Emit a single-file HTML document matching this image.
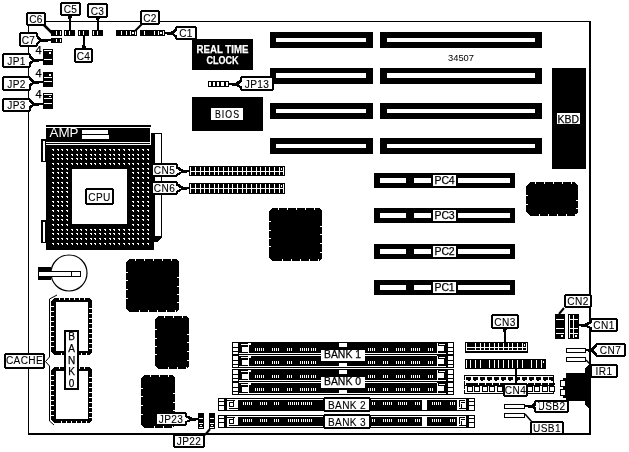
<!DOCTYPE html>
<html><head><meta charset="utf-8"><style>
html,body{margin:0;padding:0;background:#fff;width:629px;height:452px;overflow:hidden}
svg{display:block;will-change:transform}
text{font-family:"Liberation Sans",sans-serif}
</style></head><body>
<svg width="629" height="452" viewBox="0 0 629 452" shape-rendering="crispEdges">
<rect x="28" y="21" width="562" height="1" fill="#000" />
<rect x="28" y="21" width="1" height="414" fill="#000" />
<rect x="589" y="21" width="2" height="414" fill="#000" />
<rect x="28" y="433" width="563" height="2" fill="#000" />
<rect x="270" y="32" width="103" height="16" fill="#000" />
<rect x="276" y="38" width="90" height="4" fill="#fff" />
<rect x="380" y="32" width="162" height="16" fill="#000" />
<rect x="387" y="38" width="148" height="4" fill="#fff" />
<rect x="270" y="68" width="103" height="16" fill="#000" />
<rect x="276" y="73" width="90" height="5" fill="#fff" />
<rect x="380" y="68" width="162" height="16" fill="#000" />
<rect x="387" y="73" width="148" height="5" fill="#fff" />
<rect x="270" y="103" width="103" height="16" fill="#000" />
<rect x="276" y="109" width="90" height="4" fill="#fff" />
<rect x="380" y="103" width="162" height="16" fill="#000" />
<rect x="387" y="109" width="148" height="4" fill="#fff" />
<rect x="270" y="138" width="103" height="16" fill="#000" />
<rect x="276" y="144" width="90" height="4" fill="#fff" />
<rect x="380" y="138" width="162" height="16" fill="#000" />
<rect x="387" y="144" width="148" height="4" fill="#fff" />
<rect x="374" y="173" width="141" height="15" fill="#000" />
<rect x="380" y="178" width="26" height="5" fill="#fff" />
<rect x="414" y="178" width="17" height="5" fill="#fff" />
<rect x="458" y="178" width="52" height="5" fill="#fff" />
<rect x="433" y="175" width="23" height="11" fill="#fff" />
<text x="444.5" y="183.8" font-size="10.5" fill="#000" stroke="#000" stroke-width="0.25" font-weight="normal" text-anchor="middle" letter-spacing="-0.2">PC4</text>
<rect x="374" y="208" width="141" height="15" fill="#000" />
<rect x="380" y="213" width="26" height="5" fill="#fff" />
<rect x="414" y="213" width="17" height="5" fill="#fff" />
<rect x="458" y="213" width="52" height="5" fill="#fff" />
<rect x="433" y="210" width="23" height="11" fill="#fff" />
<text x="444.5" y="218.8" font-size="10.5" fill="#000" stroke="#000" stroke-width="0.25" font-weight="normal" text-anchor="middle" letter-spacing="-0.2">PC3</text>
<rect x="374" y="244" width="141" height="15" fill="#000" />
<rect x="380" y="249" width="26" height="5" fill="#fff" />
<rect x="414" y="249" width="17" height="5" fill="#fff" />
<rect x="458" y="249" width="52" height="5" fill="#fff" />
<rect x="433" y="246" width="23" height="11" fill="#fff" />
<text x="444.5" y="254.8" font-size="10.5" fill="#000" stroke="#000" stroke-width="0.25" font-weight="normal" text-anchor="middle" letter-spacing="-0.2">PC2</text>
<rect x="374" y="280" width="141" height="15" fill="#000" />
<rect x="380" y="285" width="26" height="5" fill="#fff" />
<rect x="414" y="285" width="17" height="5" fill="#fff" />
<rect x="458" y="285" width="52" height="5" fill="#fff" />
<rect x="433" y="282" width="23" height="11" fill="#fff" />
<text x="444.5" y="290.8" font-size="10.5" fill="#000" stroke="#000" stroke-width="0.25" font-weight="normal" text-anchor="middle" letter-spacing="-0.2">PC1</text>
<rect x="192" y="39" width="61" height="31" fill="#000" />
<text x="222.5" y="53" font-size="11" fill="#fff" stroke="#fff" stroke-width="0.25" font-weight="bold" text-anchor="middle" lengthAdjust="spacingAndGlyphs" textLength="52">REAL TIME</text>
<text x="222.5" y="64" font-size="11" fill="#fff" stroke="#fff" stroke-width="0.25" font-weight="bold" text-anchor="middle" lengthAdjust="spacingAndGlyphs" textLength="32">CLOCK</text>
<rect x="192" y="97" width="71" height="34" fill="#000" />
<rect x="211" y="108" width="32" height="12" fill="#fff"  rx="1.5"/>
<g transform="translate(227.5,0) scale(0.8,1)">
<text x="0" y="118" font-size="11" fill="#000" stroke="#000" stroke-width="0.15" font-weight="normal" text-anchor="middle" letter-spacing="1.3">BIOS</text>
</g>
<rect x="552" y="68" width="34" height="101" fill="#000" />
<rect x="557" y="113" width="23" height="11" fill="#fff"  rx="1.5"/>
<text x="568.3" y="122.7" font-size="11" fill="#000" stroke="#000" stroke-width="0.25" font-weight="normal" text-anchor="middle" lengthAdjust="spacingAndGlyphs" textLength="21.5">KBD</text>
<text x="448" y="61" font-size="9.5" fill="#000" stroke="#000" stroke-width="0" font-weight="normal" text-anchor="start" lengthAdjust="spacingAndGlyphs" textLength="26">34507</text>
<rect x="46" y="125" width="105" height="2" fill="#000" />
<rect x="46" y="128" width="104" height="14" fill="#000" />
<rect x="46" y="143" width="104" height="1" fill="#000" />
<rect x="46" y="145" width="108" height="105" fill="#000" />
<text x="49.5" y="137" font-size="12.5" fill="#fff" stroke="#fff" stroke-width="0" font-weight="normal" text-anchor="start" lengthAdjust="spacingAndGlyphs" textLength="29">AMP</text>
<rect x="82" y="130" width="26" height="4" fill="#fff" />
<rect x="82" y="135" width="27" height="4" fill="#fff" />
<path d="M52 149h2v2h-1v-1h-1zM57 149h2v2h-1v-1h-1zM61 149h2v2h-1v-1h-1zM66 149h2v2h-1v-1h-1zM71 149h2v2h-1v-1h-1zM76 149h2v2h-1v-1h-1zM80 149h2v2h-1v-1h-1zM85 149h2v2h-1v-1h-1zM90 149h2v2h-1v-1h-1zM94 149h2v2h-1v-1h-1zM99 149h2v2h-1v-1h-1zM104 149h2v2h-1v-1h-1zM109 149h2v2h-1v-1h-1zM113 149h2v2h-1v-1h-1zM118 149h2v2h-1v-1h-1zM123 149h2v2h-1v-1h-1zM128 149h2v2h-1v-1h-1zM132 149h2v2h-1v-1h-1zM137 149h2v2h-1v-1h-1zM142 149h2v2h-1v-1h-1zM147 149h2v2h-1v-1h-1zM52 154h2v2h-1v-1h-1zM57 154h2v2h-1v-1h-1zM61 154h2v2h-1v-1h-1zM66 154h2v2h-1v-1h-1zM71 154h2v2h-1v-1h-1zM76 154h2v2h-1v-1h-1zM80 154h2v2h-1v-1h-1zM85 154h2v2h-1v-1h-1zM90 154h2v2h-1v-1h-1zM94 154h2v2h-1v-1h-1zM99 154h2v2h-1v-1h-1zM104 154h2v2h-1v-1h-1zM109 154h2v2h-1v-1h-1zM113 154h2v2h-1v-1h-1zM118 154h2v2h-1v-1h-1zM123 154h2v2h-1v-1h-1zM128 154h2v2h-1v-1h-1zM132 154h2v2h-1v-1h-1zM137 154h2v2h-1v-1h-1zM142 154h2v2h-1v-1h-1zM147 154h2v2h-1v-1h-1zM52 158h2v2h-1v-1h-1zM57 158h2v2h-1v-1h-1zM61 158h2v2h-1v-1h-1zM66 158h2v2h-1v-1h-1zM71 158h2v2h-1v-1h-1zM76 158h2v2h-1v-1h-1zM80 158h2v2h-1v-1h-1zM85 158h2v2h-1v-1h-1zM90 158h2v2h-1v-1h-1zM94 158h2v2h-1v-1h-1zM99 158h2v2h-1v-1h-1zM104 158h2v2h-1v-1h-1zM109 158h2v2h-1v-1h-1zM113 158h2v2h-1v-1h-1zM118 158h2v2h-1v-1h-1zM123 158h2v2h-1v-1h-1zM128 158h2v2h-1v-1h-1zM132 158h2v2h-1v-1h-1zM137 158h2v2h-1v-1h-1zM142 158h2v2h-1v-1h-1zM147 158h2v2h-1v-1h-1zM52 163h2v2h-1v-1h-1zM57 163h2v2h-1v-1h-1zM61 163h2v2h-1v-1h-1zM66 163h2v2h-1v-1h-1zM71 163h2v2h-1v-1h-1zM76 163h2v2h-1v-1h-1zM80 163h2v2h-1v-1h-1zM85 163h2v2h-1v-1h-1zM90 163h2v2h-1v-1h-1zM94 163h2v2h-1v-1h-1zM99 163h2v2h-1v-1h-1zM104 163h2v2h-1v-1h-1zM109 163h2v2h-1v-1h-1zM113 163h2v2h-1v-1h-1zM118 163h2v2h-1v-1h-1zM123 163h2v2h-1v-1h-1zM128 163h2v2h-1v-1h-1zM132 163h2v2h-1v-1h-1zM137 163h2v2h-1v-1h-1zM142 163h2v2h-1v-1h-1zM147 163h2v2h-1v-1h-1zM52 168h2v2h-1v-1h-1zM57 168h2v2h-1v-1h-1zM61 168h2v2h-1v-1h-1zM66 168h2v2h-1v-1h-1zM132 168h2v2h-1v-1h-1zM137 168h2v2h-1v-1h-1zM142 168h2v2h-1v-1h-1zM147 168h2v2h-1v-1h-1zM52 172h2v2h-1v-1h-1zM57 172h2v2h-1v-1h-1zM61 172h2v2h-1v-1h-1zM66 172h2v2h-1v-1h-1zM132 172h2v2h-1v-1h-1zM137 172h2v2h-1v-1h-1zM142 172h2v2h-1v-1h-1zM147 172h2v2h-1v-1h-1zM52 177h2v2h-1v-1h-1zM57 177h2v2h-1v-1h-1zM61 177h2v2h-1v-1h-1zM66 177h2v2h-1v-1h-1zM132 177h2v2h-1v-1h-1zM137 177h2v2h-1v-1h-1zM142 177h2v2h-1v-1h-1zM147 177h2v2h-1v-1h-1zM52 182h2v2h-1v-1h-1zM57 182h2v2h-1v-1h-1zM61 182h2v2h-1v-1h-1zM66 182h2v2h-1v-1h-1zM132 182h2v2h-1v-1h-1zM137 182h2v2h-1v-1h-1zM142 182h2v2h-1v-1h-1zM147 182h2v2h-1v-1h-1zM52 187h2v2h-1v-1h-1zM57 187h2v2h-1v-1h-1zM61 187h2v2h-1v-1h-1zM66 187h2v2h-1v-1h-1zM132 187h2v2h-1v-1h-1zM137 187h2v2h-1v-1h-1zM142 187h2v2h-1v-1h-1zM147 187h2v2h-1v-1h-1zM52 191h2v2h-1v-1h-1zM57 191h2v2h-1v-1h-1zM61 191h2v2h-1v-1h-1zM66 191h2v2h-1v-1h-1zM132 191h2v2h-1v-1h-1zM137 191h2v2h-1v-1h-1zM142 191h2v2h-1v-1h-1zM147 191h2v2h-1v-1h-1zM52 196h2v2h-1v-1h-1zM57 196h2v2h-1v-1h-1zM61 196h2v2h-1v-1h-1zM66 196h2v2h-1v-1h-1zM132 196h2v2h-1v-1h-1zM137 196h2v2h-1v-1h-1zM142 196h2v2h-1v-1h-1zM147 196h2v2h-1v-1h-1zM52 201h2v2h-1v-1h-1zM57 201h2v2h-1v-1h-1zM61 201h2v2h-1v-1h-1zM66 201h2v2h-1v-1h-1zM132 201h2v2h-1v-1h-1zM137 201h2v2h-1v-1h-1zM142 201h2v2h-1v-1h-1zM147 201h2v2h-1v-1h-1zM52 205h2v2h-1v-1h-1zM57 205h2v2h-1v-1h-1zM61 205h2v2h-1v-1h-1zM66 205h2v2h-1v-1h-1zM132 205h2v2h-1v-1h-1zM137 205h2v2h-1v-1h-1zM142 205h2v2h-1v-1h-1zM147 205h2v2h-1v-1h-1zM52 210h2v2h-1v-1h-1zM57 210h2v2h-1v-1h-1zM61 210h2v2h-1v-1h-1zM66 210h2v2h-1v-1h-1zM132 210h2v2h-1v-1h-1zM137 210h2v2h-1v-1h-1zM142 210h2v2h-1v-1h-1zM147 210h2v2h-1v-1h-1zM52 215h2v2h-1v-1h-1zM57 215h2v2h-1v-1h-1zM61 215h2v2h-1v-1h-1zM66 215h2v2h-1v-1h-1zM132 215h2v2h-1v-1h-1zM137 215h2v2h-1v-1h-1zM142 215h2v2h-1v-1h-1zM147 215h2v2h-1v-1h-1zM52 219h2v2h-1v-1h-1zM57 219h2v2h-1v-1h-1zM61 219h2v2h-1v-1h-1zM66 219h2v2h-1v-1h-1zM132 219h2v2h-1v-1h-1zM137 219h2v2h-1v-1h-1zM142 219h2v2h-1v-1h-1zM147 219h2v2h-1v-1h-1zM52 224h2v2h-1v-1h-1zM57 224h2v2h-1v-1h-1zM61 224h2v2h-1v-1h-1zM66 224h2v2h-1v-1h-1zM132 224h2v2h-1v-1h-1zM137 224h2v2h-1v-1h-1zM142 224h2v2h-1v-1h-1zM147 224h2v2h-1v-1h-1zM52 229h2v2h-1v-1h-1zM57 229h2v2h-1v-1h-1zM61 229h2v2h-1v-1h-1zM66 229h2v2h-1v-1h-1zM71 229h2v2h-1v-1h-1zM76 229h2v2h-1v-1h-1zM80 229h2v2h-1v-1h-1zM85 229h2v2h-1v-1h-1zM90 229h2v2h-1v-1h-1zM94 229h2v2h-1v-1h-1zM99 229h2v2h-1v-1h-1zM104 229h2v2h-1v-1h-1zM109 229h2v2h-1v-1h-1zM113 229h2v2h-1v-1h-1zM118 229h2v2h-1v-1h-1zM123 229h2v2h-1v-1h-1zM128 229h2v2h-1v-1h-1zM132 229h2v2h-1v-1h-1zM137 229h2v2h-1v-1h-1zM142 229h2v2h-1v-1h-1zM147 229h2v2h-1v-1h-1zM52 233h2v2h-1v-1h-1zM57 233h2v2h-1v-1h-1zM61 233h2v2h-1v-1h-1zM66 233h2v2h-1v-1h-1zM71 233h2v2h-1v-1h-1zM76 233h2v2h-1v-1h-1zM80 233h2v2h-1v-1h-1zM85 233h2v2h-1v-1h-1zM90 233h2v2h-1v-1h-1zM94 233h2v2h-1v-1h-1zM99 233h2v2h-1v-1h-1zM104 233h2v2h-1v-1h-1zM109 233h2v2h-1v-1h-1zM113 233h2v2h-1v-1h-1zM118 233h2v2h-1v-1h-1zM123 233h2v2h-1v-1h-1zM128 233h2v2h-1v-1h-1zM132 233h2v2h-1v-1h-1zM137 233h2v2h-1v-1h-1zM142 233h2v2h-1v-1h-1zM147 233h2v2h-1v-1h-1zM52 238h2v2h-1v-1h-1zM57 238h2v2h-1v-1h-1zM61 238h2v2h-1v-1h-1zM66 238h2v2h-1v-1h-1zM71 238h2v2h-1v-1h-1zM76 238h2v2h-1v-1h-1zM80 238h2v2h-1v-1h-1zM85 238h2v2h-1v-1h-1zM90 238h2v2h-1v-1h-1zM94 238h2v2h-1v-1h-1zM99 238h2v2h-1v-1h-1zM104 238h2v2h-1v-1h-1zM109 238h2v2h-1v-1h-1zM113 238h2v2h-1v-1h-1zM118 238h2v2h-1v-1h-1zM123 238h2v2h-1v-1h-1zM128 238h2v2h-1v-1h-1zM132 238h2v2h-1v-1h-1zM137 238h2v2h-1v-1h-1zM142 238h2v2h-1v-1h-1zM147 238h2v2h-1v-1h-1zM52 243h2v2h-1v-1h-1zM57 243h2v2h-1v-1h-1zM61 243h2v2h-1v-1h-1zM66 243h2v2h-1v-1h-1zM71 243h2v2h-1v-1h-1zM76 243h2v2h-1v-1h-1zM80 243h2v2h-1v-1h-1zM85 243h2v2h-1v-1h-1zM90 243h2v2h-1v-1h-1zM94 243h2v2h-1v-1h-1zM99 243h2v2h-1v-1h-1zM104 243h2v2h-1v-1h-1zM109 243h2v2h-1v-1h-1zM113 243h2v2h-1v-1h-1zM118 243h2v2h-1v-1h-1zM123 243h2v2h-1v-1h-1zM128 243h2v2h-1v-1h-1zM132 243h2v2h-1v-1h-1zM137 243h2v2h-1v-1h-1zM142 243h2v2h-1v-1h-1zM147 243h2v2h-1v-1h-1z" fill="#fff"/>
<rect x="72" y="169" width="55" height="55" fill="#fff" />
<rect x="41" y="139" width="5" height="23" fill="#000" />
<rect x="43" y="141" width="2" height="20" fill="#fff" />
<rect x="41" y="220" width="5" height="23" fill="#000" />
<rect x="43" y="222" width="2" height="20" fill="#fff" />
<rect x="151" y="133" width="11" height="104" fill="#000" />
<rect x="155" y="134" width="6" height="102" fill="#fff" />
<polygon points="151,237 162,237 157,242 151,242" fill="#000" />
<rect x="85" y="188" width="29" height="17" rx="2.5" fill="#000"/>
<rect x="87" y="190" width="25" height="13" rx="1" fill="#fff"/>
<g transform="translate(99.5,0) scale(0.88,1)">
<text x="0" y="200.89999999999998" font-size="11.5" fill="#000" stroke="#000" stroke-width="0.1" font-weight="normal" text-anchor="middle" letter-spacing="0.4">CPU</text>
</g>
<rect x="189" y="166" width="96" height="10" fill="#000" />
<rect x="190" y="171" width="94" height="1" fill="#fff" />
<path d="M190 167h1v8h-1zM195 167h1v8h-1zM200 167h1v8h-1zM204 167h1v8h-1zM209 167h1v8h-1zM214 167h1v8h-1zM218 167h1v8h-1zM223 167h1v8h-1zM228 167h1v8h-1zM232 167h1v8h-1zM237 167h1v8h-1zM242 167h1v8h-1zM246 167h1v8h-1zM251 167h1v8h-1zM256 167h1v8h-1zM260 167h1v8h-1zM265 167h1v8h-1zM269 167h1v8h-1zM274 167h1v8h-1zM279 167h1v8h-1zM283 167h1v8h-1z" fill="#fff"/>
<rect x="189" y="183" width="96" height="11" fill="#000" />
<rect x="190" y="188" width="94" height="1" fill="#fff" />
<path d="M190 184h1v9h-1zM195 184h1v9h-1zM200 184h1v9h-1zM204 184h1v9h-1zM209 184h1v9h-1zM214 184h1v9h-1zM218 184h1v9h-1zM223 184h1v9h-1zM228 184h1v9h-1zM232 184h1v9h-1zM237 184h1v9h-1zM242 184h1v9h-1zM246 184h1v9h-1zM251 184h1v9h-1zM256 184h1v9h-1zM260 184h1v9h-1zM265 184h1v9h-1zM269 184h1v9h-1zM274 184h1v9h-1zM279 184h1v9h-1zM283 184h1v9h-1z" fill="#fff"/>
<rect x="281" y="168" width="1" height="2" fill="#fff" />
<rect x="281" y="185" width="1" height="2" fill="#fff" />
<polygon points="177,166 183,169.5 186.6,169.5 186.6,170.0 189,170.0 189,172.0 186.6,172.0 186.6,172.5 183,172.5 177,176" fill="#000" />
<polygon points="177,183 183,186.5 186.6,186.5 186.6,187.0 189,187.0 189,189.0 186.6,189.0 186.6,189.5 183,189.5 177,193" fill="#000" />
<rect x="151" y="163" width="27" height="14" rx="2.5" fill="#000"/>
<rect x="153" y="165" width="23" height="10" rx="1" fill="#fff"/>
<g transform="translate(164.5,0) scale(0.88,1)">
<text x="0" y="173.7" font-size="11.5" fill="#000" stroke="#000" stroke-width="0.1" font-weight="normal" text-anchor="middle" letter-spacing="0.4">CN5</text>
</g>
<rect x="151" y="181" width="27" height="14" rx="2.5" fill="#000"/>
<rect x="153" y="183" width="23" height="10" rx="1" fill="#fff"/>
<g transform="translate(164.5,0) scale(0.88,1)">
<text x="0" y="191.7" font-size="11.5" fill="#000" stroke="#000" stroke-width="0.1" font-weight="normal" text-anchor="middle" letter-spacing="0.4">CN6</text>
</g>
<polygon points="272,208 319,208 322,211 322,258 319,261 272,261 269,258 269,211" fill="#000" />
<path d="M278 208h1v2h-1z M282 259h1v2h-1z M287 208h1v2h-1z M291 259h1v2h-1z M296 208h1v2h-1z M300 259h1v2h-1z M305 208h1v2h-1z M309 259h1v2h-1z M314 208h1v2h-1z M318 259h1v2h-1z M269 221h2v1h-2z M320 226h2v1h-2z M269 230h2v1h-2z M320 234h2v1h-2z M269 238h2v1h-2z M320 243h2v1h-2z M269 246h2v1h-2z M320 252h2v1h-2z " fill="#fff"/>
<polygon points="129,259 176,259 179,262 179,309 176,312 129,312 126,309 126,262" fill="#000" />
<path d="M135 259h1v2h-1z M139 310h1v2h-1z M144 259h1v2h-1z M148 310h1v2h-1z M153 259h1v2h-1z M157 310h1v2h-1z M162 259h1v2h-1z M166 310h1v2h-1z M171 259h1v2h-1z M175 310h1v2h-1z M126 272h2v1h-2z M177 277h2v1h-2z M126 280h2v1h-2z M177 286h2v1h-2z M126 289h2v1h-2z M177 294h2v1h-2z M126 298h2v1h-2z M177 302h2v1h-2z " fill="#fff"/>
<polygon points="158,316 186,316 189,319 189,366 186,369 158,369 155,366 155,319" fill="#000" />
<path d="M164 316h1v2h-1z M168 367h1v2h-1z M173 316h1v2h-1z M177 367h1v2h-1z M182 316h1v2h-1z M186 367h1v2h-1z M155 329h2v1h-2z M187 334h2v1h-2z M155 338h2v1h-2z M187 342h2v1h-2z M155 346h2v1h-2z M187 351h2v1h-2z M155 354h2v1h-2z M187 360h2v1h-2z " fill="#fff"/>
<polygon points="144,375 172,375 175,378 175,425 172,428 144,428 141,425 141,378" fill="#000" />
<path d="M150 375h1v2h-1z M154 426h1v2h-1z M159 375h1v2h-1z M163 426h1v2h-1z M168 375h1v2h-1z M172 426h1v2h-1z M141 388h2v1h-2z M173 393h2v1h-2z M141 396h2v1h-2z M173 402h2v1h-2z M141 405h2v1h-2z M173 410h2v1h-2z M141 414h2v1h-2z M173 418h2v1h-2z " fill="#fff"/>
<polygon points="530,182 574,182 578,186 578,212 574,216 530,216 526,212 526,186" fill="#000" />
<path d="M535 182h1v2h-1z M539 214h1v2h-1z M544 182h1v2h-1z M548 214h1v2h-1z M553 182h1v2h-1z M557 214h1v2h-1z M562 182h1v2h-1z M566 214h1v2h-1z M571 182h1v2h-1z M575 214h1v2h-1z M526 195h2v1h-2z M576 200h2v1h-2z M526 204h2v1h-2z M576 208h2v1h-2z " fill="#fff"/>
<circle cx="69" cy="273" r="18" fill="none" stroke="#000" stroke-width="1.2" shape-rendering="auto"/>
<rect x="38" y="267" width="13" height="13" fill="#000" />
<rect x="38" y="271" width="43" height="6" fill="#000" />
<rect x="39" y="272" width="41" height="4" fill="#fff" />
<rect x="71" y="272" width="1" height="4" fill="#000" />
<polygon points="54,298 89,298 92,301 92,352 89,355 54,355 51,352 51,301" fill="#000" />
<rect x="56" y="302" width="32" height="49" fill="#fff" />
<path d="M51 306h3v1h-3z M89 308h3v1h-3z M51 311h3v1h-3z M89 313h3v1h-3z M51 316h3v1h-3z M89 318h3v1h-3z M51 321h3v1h-3z M89 323h3v1h-3z M51 326h3v1h-3z M89 328h3v1h-3z M51 331h3v1h-3z M89 333h3v1h-3z M51 336h3v1h-3z M89 338h3v1h-3z M51 341h3v1h-3z M89 343h3v1h-3z M51 346h3v1h-3z M89 348h3v1h-3z M59 298h1v2h-1z M61 353h1v2h-1z M64 298h1v2h-1z M66 353h1v2h-1z M69 298h1v2h-1z M71 353h1v2h-1z M74 298h1v2h-1z M76 353h1v2h-1z M79 298h1v2h-1z M81 353h1v2h-1z M84 298h1v2h-1z M86 353h1v2h-1z " fill="#fff"/>
<polygon points="54,367 89,367 92,370 92,420 89,423 54,423 51,420 51,370" fill="#000" />
<rect x="56" y="371" width="32" height="48" fill="#fff" />
<path d="M51 375h3v1h-3z M89 377h3v1h-3z M51 380h3v1h-3z M89 382h3v1h-3z M51 385h3v1h-3z M89 387h3v1h-3z M51 390h3v1h-3z M89 392h3v1h-3z M51 395h3v1h-3z M89 397h3v1h-3z M51 400h3v1h-3z M89 402h3v1h-3z M51 405h3v1h-3z M89 407h3v1h-3z M51 410h3v1h-3z M89 412h3v1h-3z M51 415h3v1h-3z M89 417h3v1h-3z M59 367h1v2h-1z M61 421h1v2h-1z M64 367h1v2h-1z M66 421h1v2h-1z M69 367h1v2h-1z M71 421h1v2h-1z M74 367h1v2h-1z M76 421h1v2h-1z M79 367h1v2h-1z M81 421h1v2h-1z M84 367h1v2h-1z M86 421h1v2h-1z " fill="#fff"/>
<polyline points="57,295 49.5,299 49.5,357 45.5,361.5 49.5,366 49.5,421 54,425" fill="none" stroke="#000" stroke-width="1" shape-rendering="auto"/>
<rect x="4" y="353" width="41" height="16" rx="2.5" fill="#000"/>
<rect x="6" y="355" width="37" height="12" rx="1" fill="#fff"/>
<g transform="translate(24.5,0) scale(0.88,1)">
<text x="0" y="364.2" font-size="11.5" fill="#000" stroke="#000" stroke-width="0.1" font-weight="normal" text-anchor="middle" letter-spacing="0.4">CACHE</text>
</g>
<rect x="64" y="330" width="15" height="60" fill="#000" />
<rect x="66" y="332" width="11" height="56" fill="#fff" />
<text x="71.5" y="340.0" font-size="10" fill="#000" stroke="#000" stroke-width="0.25" font-weight="normal" text-anchor="middle" >B</text>
<text x="71.5" y="351.75" font-size="10" fill="#000" stroke="#000" stroke-width="0.25" font-weight="normal" text-anchor="middle" >A</text>
<text x="71.5" y="363.5" font-size="10" fill="#000" stroke="#000" stroke-width="0.25" font-weight="normal" text-anchor="middle" >N</text>
<text x="71.5" y="375.25" font-size="10" fill="#000" stroke="#000" stroke-width="0.25" font-weight="normal" text-anchor="middle" >K</text>
<text x="71.5" y="387.0" font-size="10" fill="#000" stroke="#000" stroke-width="0.25" font-weight="normal" text-anchor="middle" >0</text>
<rect x="232" y="342" width="222" height="26" fill="#000" />
<path d="M233 343h5v4h-5z M233 348h5v3h-5z M233 352h5v2h-5z M448 343h5v4h-5z M448 348h5v3h-5z M448 352h5v2h-5z M241 344h7v1h-7z M242 347h6v5h-6z M249 343h2v2h-2z M248 343h1v11h-1z M439 344h6v1h-6z M438 346h6v5h-6z M437 343h1v10h-1z M239 353h207v1h-207z M255 348h1v3h-1zM257 348h1v3h-1zM259 348h1v3h-1zM261 348h1v3h-1zM263 348h1v3h-1zM272 348h1v3h-1zM274 348h1v3h-1zM276 348h1v3h-1zM278 348h1v3h-1zM287 348h1v3h-1zM289 348h1v3h-1zM291 348h1v3h-1zM300 348h1v3h-1zM302 348h1v3h-1zM304 348h1v3h-1zM306 348h1v3h-1zM308 348h1v3h-1zM311 348h1v3h-1zM313 348h1v3h-1zM315 348h1v3h-1zM368 348h1v3h-1zM370 348h1v3h-1zM372 348h1v3h-1zM374 348h1v3h-1zM383 348h1v3h-1zM385 348h1v3h-1zM387 348h1v3h-1zM396 348h1v3h-1zM398 348h1v3h-1zM400 348h1v3h-1zM402 348h1v3h-1zM404 348h1v3h-1zM411 348h1v3h-1zM413 348h1v3h-1zM415 348h1v3h-1zM417 348h1v3h-1zM419 348h1v3h-1zM428 348h1v3h-1zM430 348h1v3h-1zM432 348h1v3h-1zM233 356h5v4h-5z M233 361h5v3h-5z M233 365h5v2h-5z M448 356h5v4h-5z M448 361h5v3h-5z M448 365h5v2h-5z M241 357h7v1h-7z M242 360h6v5h-6z M249 356h2v2h-2z M248 356h1v11h-1z M439 357h6v1h-6z M438 359h6v5h-6z M437 356h1v10h-1z M239 366h207v1h-207z M255 361h1v3h-1zM257 361h1v3h-1zM259 361h1v3h-1zM261 361h1v3h-1zM263 361h1v3h-1zM272 361h1v3h-1zM274 361h1v3h-1zM276 361h1v3h-1zM278 361h1v3h-1zM287 361h1v3h-1zM289 361h1v3h-1zM291 361h1v3h-1zM300 361h1v3h-1zM302 361h1v3h-1zM304 361h1v3h-1zM306 361h1v3h-1zM308 361h1v3h-1zM311 361h1v3h-1zM313 361h1v3h-1zM315 361h1v3h-1zM368 361h1v3h-1zM370 361h1v3h-1zM372 361h1v3h-1zM374 361h1v3h-1zM383 361h1v3h-1zM385 361h1v3h-1zM387 361h1v3h-1zM396 361h1v3h-1zM398 361h1v3h-1zM400 361h1v3h-1zM402 361h1v3h-1zM404 361h1v3h-1zM411 361h1v3h-1zM413 361h1v3h-1zM415 361h1v3h-1zM417 361h1v3h-1zM419 361h1v3h-1zM428 361h1v3h-1zM430 361h1v3h-1zM432 361h1v3h-1zM239 355h198v1h-198z M339 343h8v4h-8z M339 363h8v3h-8z " fill="#fff"/>
<rect x="321" y="350" width="44" height="11" fill="#fff" />
<rect x="232" y="369" width="222" height="26" fill="#000" />
<path d="M233 370h5v4h-5z M233 375h5v3h-5z M233 379h5v2h-5z M448 370h5v4h-5z M448 375h5v3h-5z M448 379h5v2h-5z M241 371h7v1h-7z M242 374h6v5h-6z M249 370h2v2h-2z M248 370h1v11h-1z M439 371h6v1h-6z M438 373h6v5h-6z M437 370h1v10h-1z M239 380h207v1h-207z M255 375h1v3h-1zM257 375h1v3h-1zM259 375h1v3h-1zM261 375h1v3h-1zM263 375h1v3h-1zM272 375h1v3h-1zM274 375h1v3h-1zM276 375h1v3h-1zM278 375h1v3h-1zM287 375h1v3h-1zM289 375h1v3h-1zM291 375h1v3h-1zM300 375h1v3h-1zM302 375h1v3h-1zM304 375h1v3h-1zM306 375h1v3h-1zM308 375h1v3h-1zM311 375h1v3h-1zM313 375h1v3h-1zM315 375h1v3h-1zM368 375h1v3h-1zM370 375h1v3h-1zM372 375h1v3h-1zM374 375h1v3h-1zM383 375h1v3h-1zM385 375h1v3h-1zM387 375h1v3h-1zM396 375h1v3h-1zM398 375h1v3h-1zM400 375h1v3h-1zM402 375h1v3h-1zM404 375h1v3h-1zM411 375h1v3h-1zM413 375h1v3h-1zM415 375h1v3h-1zM417 375h1v3h-1zM419 375h1v3h-1zM428 375h1v3h-1zM430 375h1v3h-1zM432 375h1v3h-1zM233 383h5v4h-5z M233 388h5v3h-5z M233 392h5v2h-5z M448 383h5v4h-5z M448 388h5v3h-5z M448 392h5v2h-5z M241 384h7v1h-7z M242 387h6v5h-6z M249 383h2v2h-2z M248 383h1v11h-1z M439 384h6v1h-6z M438 386h6v5h-6z M437 383h1v10h-1z M239 393h207v1h-207z M255 388h1v3h-1zM257 388h1v3h-1zM259 388h1v3h-1zM261 388h1v3h-1zM263 388h1v3h-1zM272 388h1v3h-1zM274 388h1v3h-1zM276 388h1v3h-1zM278 388h1v3h-1zM287 388h1v3h-1zM289 388h1v3h-1zM291 388h1v3h-1zM300 388h1v3h-1zM302 388h1v3h-1zM304 388h1v3h-1zM306 388h1v3h-1zM308 388h1v3h-1zM311 388h1v3h-1zM313 388h1v3h-1zM315 388h1v3h-1zM368 388h1v3h-1zM370 388h1v3h-1zM372 388h1v3h-1zM374 388h1v3h-1zM383 388h1v3h-1zM385 388h1v3h-1zM387 388h1v3h-1zM396 388h1v3h-1zM398 388h1v3h-1zM400 388h1v3h-1zM402 388h1v3h-1zM404 388h1v3h-1zM411 388h1v3h-1zM413 388h1v3h-1zM415 388h1v3h-1zM417 388h1v3h-1zM419 388h1v3h-1zM428 388h1v3h-1zM430 388h1v3h-1zM432 388h1v3h-1zM239 382h198v1h-198z M339 370h8v4h-8z M339 390h8v3h-8z " fill="#fff"/>
<rect x="321" y="377" width="44" height="11" fill="#fff" />
<text x="342.5" y="358.2" font-size="11" fill="#000" stroke="#000" stroke-width="0.25" font-weight="normal" text-anchor="middle" textLength="37" lengthAdjust="spacingAndGlyphs">BANK 1</text>
<text x="342.5" y="385.2" font-size="11" fill="#000" stroke="#000" stroke-width="0.25" font-weight="normal" text-anchor="middle" textLength="37" lengthAdjust="spacingAndGlyphs">BANK 0</text>
<rect x="218" y="398" width="257" height="13" fill="#000" />
<rect x="219" y="399" width="255" height="11" fill="#fff" />
<rect x="219" y="401" width="5" height="1" fill="#000" />
<rect x="219" y="405" width="5" height="1" fill="#000" />
<rect x="224" y="399" width="3" height="11" fill="#000" />
<rect x="469" y="401" width="5" height="1" fill="#000" />
<rect x="469" y="405" width="5" height="1" fill="#000" />
<rect x="466" y="399" width="3" height="11" fill="#000" />
<rect x="227" y="400" width="8" height="1" fill="#000" />
<rect x="233" y="400" width="1" height="6" fill="#000" />
<rect x="229" y="402" width="4" height="1" fill="#000" />
<rect x="229" y="402" width="1" height="4" fill="#000" />
<rect x="229" y="406" width="5" height="1" fill="#000" />
<rect x="229" y="408" width="9" height="1" fill="#000" />
<rect x="459" y="400" width="6" height="1" fill="#000" />
<rect x="459" y="400" width="1" height="7" fill="#000" />
<rect x="461" y="402" width="4" height="1" fill="#000" />
<rect x="461" y="404" width="1" height="4" fill="#000" />
<rect x="459" y="408" width="7" height="1" fill="#000" />
<rect x="238" y="400" width="184" height="11" fill="#000" />
<rect x="427" y="400" width="30" height="11" fill="#000" />
<path d="M243 402h1v3h-1zM245 402h1v3h-1zM247 402h1v3h-1zM249 402h1v3h-1zM251 402h1v3h-1zM260 402h1v3h-1zM262 402h1v3h-1zM264 402h1v3h-1zM266 402h1v3h-1zM274 402h1v3h-1zM276 402h1v3h-1zM278 402h1v3h-1zM288 402h1v3h-1zM290 402h1v3h-1zM292 402h1v3h-1zM294 402h1v3h-1zM296 402h1v3h-1zM298 402h1v3h-1zM301 402h1v3h-1zM303 402h1v3h-1zM305 402h1v3h-1zM307 402h1v3h-1zM309 402h1v3h-1zM311 402h1v3h-1zM372 402h1v3h-1zM374 402h1v3h-1zM383 402h1v3h-1zM385 402h1v3h-1zM387 402h1v3h-1zM389 402h1v3h-1zM391 402h1v3h-1zM398 402h1v3h-1zM400 402h1v3h-1zM402 402h1v3h-1zM404 402h1v3h-1zM406 402h1v3h-1zM415 402h1v3h-1zM417 402h1v3h-1zM419 402h1v3h-1zM432 402h1v3h-1zM434 402h1v3h-1zM436 402h1v3h-1zM438 402h1v3h-1zM440 402h1v3h-1zM450 402h1v3h-1zM452 402h1v3h-1zM454 402h1v3h-1z" fill="#fff"/>
<rect x="218" y="415" width="257" height="13" fill="#000" />
<rect x="219" y="416" width="255" height="11" fill="#fff" />
<rect x="219" y="418" width="5" height="1" fill="#000" />
<rect x="219" y="422" width="5" height="1" fill="#000" />
<rect x="224" y="416" width="3" height="11" fill="#000" />
<rect x="469" y="418" width="5" height="1" fill="#000" />
<rect x="469" y="422" width="5" height="1" fill="#000" />
<rect x="466" y="416" width="3" height="11" fill="#000" />
<rect x="227" y="417" width="8" height="1" fill="#000" />
<rect x="233" y="417" width="1" height="6" fill="#000" />
<rect x="229" y="419" width="4" height="1" fill="#000" />
<rect x="229" y="419" width="1" height="4" fill="#000" />
<rect x="229" y="423" width="5" height="1" fill="#000" />
<rect x="229" y="425" width="9" height="1" fill="#000" />
<rect x="459" y="417" width="6" height="1" fill="#000" />
<rect x="459" y="417" width="1" height="7" fill="#000" />
<rect x="461" y="419" width="4" height="1" fill="#000" />
<rect x="461" y="421" width="1" height="4" fill="#000" />
<rect x="459" y="425" width="7" height="1" fill="#000" />
<rect x="238" y="417" width="184" height="9" fill="#000" />
<rect x="427" y="417" width="30" height="9" fill="#000" />
<path d="M243 419h1v3h-1zM245 419h1v3h-1zM247 419h1v3h-1zM249 419h1v3h-1zM251 419h1v3h-1zM260 419h1v3h-1zM262 419h1v3h-1zM264 419h1v3h-1zM266 419h1v3h-1zM274 419h1v3h-1zM276 419h1v3h-1zM278 419h1v3h-1zM288 419h1v3h-1zM290 419h1v3h-1zM292 419h1v3h-1zM294 419h1v3h-1zM296 419h1v3h-1zM298 419h1v3h-1zM301 419h1v3h-1zM303 419h1v3h-1zM305 419h1v3h-1zM307 419h1v3h-1zM309 419h1v3h-1zM311 419h1v3h-1zM372 419h1v3h-1zM374 419h1v3h-1zM383 419h1v3h-1zM385 419h1v3h-1zM387 419h1v3h-1zM389 419h1v3h-1zM391 419h1v3h-1zM398 419h1v3h-1zM400 419h1v3h-1zM402 419h1v3h-1zM404 419h1v3h-1zM406 419h1v3h-1zM415 419h1v3h-1zM417 419h1v3h-1zM419 419h1v3h-1zM432 419h1v3h-1zM434 419h1v3h-1zM436 419h1v3h-1zM438 419h1v3h-1zM440 419h1v3h-1zM450 419h1v3h-1zM452 419h1v3h-1zM454 419h1v3h-1z" fill="#fff"/>
<rect x="323" y="397" width="48" height="15" rx="2.5" fill="#000"/>
<rect x="325" y="399" width="44" height="11" rx="1" fill="#fff"/>
<g transform="translate(347.0,0) scale(0.88,1)">
<text x="0" y="408.7" font-size="11.5" fill="#000" stroke="#000" stroke-width="0.1" font-weight="normal" text-anchor="middle" letter-spacing="0.4">BANK 2</text>
</g>
<rect x="323" y="414" width="48" height="15" rx="2.5" fill="#000"/>
<rect x="325" y="416" width="44" height="11" rx="1" fill="#fff"/>
<g transform="translate(347.0,0) scale(0.88,1)">
<text x="0" y="425.7" font-size="11.5" fill="#000" stroke="#000" stroke-width="0.1" font-weight="normal" text-anchor="middle" letter-spacing="0.4">BANK 3</text>
</g>
<rect x="465" y="342" width="63" height="11" fill="#000" />
<path d="M466 350h61v1h-61z M466 347h61v1h-61z M524 344h1v2h-1z M466 343h1v8h-1zM475 343h1v8h-1zM480 343h1v8h-1zM484 343h1v8h-1zM489 343h1v8h-1zM494 343h1v8h-1zM498 343h1v8h-1zM503 343h1v8h-1zM508 343h1v8h-1zM512 343h1v8h-1zM517 343h1v8h-1zM522 343h1v8h-1zM526 343h1v8h-1z" fill="#fff"/>
<rect x="465" y="359" width="81" height="10" fill="#000" />
<path d="M543 361h1v2h-1z M466 360h1v8h-1zM470 360h1v8h-1zM475 360h1v8h-1zM480 360h1v8h-1zM489 360h1v8h-1zM494 360h1v8h-1zM498 360h1v8h-1zM503 360h1v8h-1zM508 360h1v8h-1zM512 360h1v8h-1zM517 360h1v8h-1zM522 360h1v8h-1zM531 360h1v8h-1zM536 360h1v8h-1zM541 360h1v8h-1z" fill="#fff"/>
<rect x="464" y="375" width="90" height="19" fill="#000" />
<rect x="465" y="376" width="88" height="17" fill="#fff" />
<path d="M466.0 377h5v3h-5z M467.5 380h2v1h-2z M465.5 383h6v2h-6z M472.9 377h5v3h-5z M474.4 380h2v1h-2z M472.4 383h6v2h-6z M479.9 377h5v3h-5z M481.4 380h2v1h-2z M479.4 383h6v2h-6z M486.9 377h5v3h-5z M488.4 380h2v1h-2z M486.4 383h6v2h-6z M493.8 377h5v3h-5z M495.3 380h2v1h-2z M493.3 383h6v2h-6z M500.8 377h5v3h-5z M502.2 380h2v1h-2z M500.2 383h6v2h-6z M507.7 377h5v3h-5z M509.2 380h2v1h-2z M507.2 383h6v2h-6z M514.6 377h5v3h-5z M516.1 380h2v1h-2z M514.1 383h6v2h-6z M521.6 377h5v3h-5z M523.1 380h2v1h-2z M521.1 383h6v2h-6z M528.5 377h5v3h-5z M530.0 380h2v1h-2z M528.0 383h6v2h-6z M535.5 377h5v3h-5z M537.0 380h2v1h-2z M535.0 383h6v2h-6z M542.5 377h5v3h-5z M544.0 380h2v1h-2z M542.0 383h6v2h-6z M549.4 377h5v3h-5z M550.9 380h2v1h-2z M548.9 383h6v2h-6z M465 385h88v1h-88z M467.0 386h6v6h-6z M474.4 386h6v6h-6z M481.9 386h6v6h-6z M489.4 386h6v6h-6z M496.8 386h6v6h-6z M504.2 386h6v6h-6z M511.7 386h6v6h-6z M519.1 386h6v6h-6z M526.6 386h6v6h-6z M534.0 386h6v6h-6z M541.5 386h6v6h-6z M549.0 386h6v6h-6z " fill="#000"/>
<path d="M468.0 387h4v4h-4z M475.4 387h4v4h-4z M482.9 387h4v4h-4z M490.4 387h4v4h-4z M497.8 387h4v4h-4z M505.2 387h4v4h-4z M512.7 387h4v4h-4z M520.1 387h4v4h-4z M527.6 387h4v4h-4z M535.0 387h4v4h-4z M542.5 387h4v4h-4z M550.0 387h4v4h-4z M464 380h2v1h-2z M464 389h2v1h-2z" fill="#fff"/>
<rect x="515" y="369" width="2" height="14" fill="#000" />
<rect x="503" y="383" width="25" height="14" rx="2.5" fill="#000"/>
<rect x="505" y="385" width="21" height="10" rx="1" fill="#fff"/>
<g transform="translate(515.5,0) scale(0.88,1)">
<text x="0" y="393.7" font-size="11.5" fill="#000" stroke="#000" stroke-width="0.1" font-weight="normal" text-anchor="middle" letter-spacing="0.4">CN4</text>
</g>
<rect x="555" y="314" width="10" height="25" fill="#000" />
<rect x="556" y="319" width="8" height="1" fill="#fff" />
<rect x="556" y="328" width="8" height="1" fill="#fff" />
<rect x="556" y="333" width="8" height="1" fill="#fff" />
<rect x="561" y="335" width="2" height="2" fill="#fff" />
<rect x="568" y="314" width="11" height="25" fill="#000" />
<rect x="569" y="315" width="1" height="23" fill="#fff" />
<rect x="573" y="315" width="1" height="23" fill="#fff" />
<rect x="569" y="319" width="9" height="1" fill="#fff" />
<rect x="569" y="328" width="9" height="1" fill="#fff" />
<rect x="569" y="333" width="9" height="1" fill="#fff" />
<rect x="575" y="335" width="2" height="2" fill="#fff" />
<line x1="564" y1="308" x2="559" y2="314" stroke="#000" stroke-width="2" shape-rendering="auto"/>
<polygon points="590,321 585,323.5 581.4,323.5 581.4,324.0 579,324.0 579,326.0 581.4,326.0 581.4,326.5 585,326.5 590,329" fill="#000" />
<rect x="566" y="348" width="20" height="5" fill="#000" />
<rect x="567" y="349" width="18" height="3" fill="#fff" />
<rect x="566" y="357" width="20" height="5" fill="#000" />
<rect x="567" y="358" width="18" height="3" fill="#fff" />
<polygon points="595,345 591,348.5 588.0,348.5 588.0,349.0 586,349.0 586,351.0 588.0,351.0 588.0,351.5 591,351.5 595,355" fill="#000" />
<line x1="586" y1="360" x2="592" y2="366" stroke="#000" stroke-width="1.5" shape-rendering="auto"/>
<polygon points="566,373 585,373 585,369 588,365 591,365 591,408 588,408 585,404 585,401 566,401 566,398 563,398 563,378 566,378" fill="#000" />
<rect x="560" y="380" width="6" height="7" fill="#000" />
<rect x="561" y="381" width="4" height="5" fill="#fff" />
<rect x="560" y="389" width="6" height="7" fill="#000" />
<rect x="561" y="390" width="4" height="5" fill="#fff" />
<rect x="504" y="404" width="21" height="5" fill="#000" />
<rect x="505" y="405" width="19" height="3" fill="#fff" />
<rect x="504" y="413" width="21" height="5" fill="#000" />
<rect x="505" y="414" width="19" height="3" fill="#fff" />
<polygon points="537,401 532,404.5 527.8,404.5 527.8,405.0 525,405.0 525,407.0 527.8,407.0 527.8,407.5 532,407.5 537,411" fill="#000" />
<line x1="525" y1="414" x2="532" y2="422" stroke="#000" stroke-width="1.5" shape-rendering="auto"/>
<polygon points="503,328 507,328 505.5,335 505.5,342 504,342 504,335" fill="#000" />
<rect x="51" y="30" width="11" height="6" fill="#000" />
<rect x="56" y="31" width="1" height="4" fill="#fff" />
<rect x="60" y="31" width="1" height="4" fill="#fff" />
<rect x="64" y="30" width="11" height="6" fill="#000" />
<rect x="65" y="31" width="1" height="4" fill="#fff" />
<rect x="69" y="31" width="1" height="4" fill="#fff" />
<rect x="78" y="30" width="11" height="6" fill="#000" />
<rect x="79" y="31" width="1" height="4" fill="#fff" />
<rect x="83" y="31" width="1" height="4" fill="#fff" />
<rect x="92" y="30" width="11" height="6" fill="#000" />
<rect x="93" y="31" width="1" height="4" fill="#fff" />
<rect x="97" y="31" width="1" height="4" fill="#fff" />
<rect x="51" y="38" width="11" height="5" fill="#000" />
<rect x="56" y="39" width="1" height="3" fill="#fff" />
<rect x="60" y="39" width="1" height="3" fill="#fff" />
<rect x="116" y="30" width="21" height="6" fill="#000" />
<rect x="121" y="31" width="1" height="4" fill="#fff" />
<rect x="126" y="31" width="1" height="4" fill="#fff" />
<rect x="130" y="31" width="1" height="4" fill="#fff" />
<rect x="135" y="31" width="1" height="4" fill="#fff" />
<rect x="132" y="32" width="2" height="2" fill="#fff" />
<rect x="140" y="30" width="25" height="6" fill="#000" />
<rect x="144" y="31" width="1" height="4" fill="#fff" />
<rect x="154" y="31" width="1" height="4" fill="#fff" />
<rect x="158" y="31" width="1" height="4" fill="#fff" />
<rect x="163" y="31" width="1" height="4" fill="#fff" />
<rect x="160" y="32" width="2" height="2" fill="#fff" />
<rect x="43" y="49" width="10" height="16" fill="#000" />
<rect x="44" y="50" width="8" height="1" fill="#fff" />
<rect x="49" y="52" width="2" height="2" fill="#fff" />
<rect x="44" y="59" width="8" height="1" fill="#fff" />
<rect x="43" y="72" width="10" height="15" fill="#000" />
<rect x="49" y="74" width="2" height="2" fill="#fff" />
<rect x="44" y="77" width="8" height="1" fill="#fff" />
<rect x="44" y="81" width="8" height="1" fill="#fff" />
<rect x="43" y="93" width="10" height="16" fill="#000" />
<rect x="44" y="94" width="8" height="1" fill="#fff" />
<rect x="49" y="96" width="2" height="1" fill="#fff" />
<rect x="44" y="98" width="8" height="1" fill="#fff" />
<rect x="44" y="103" width="8" height="1" fill="#fff" />
<text x="38.5" y="54" font-size="11" fill="#000" stroke="#000" stroke-width="0.25" font-weight="normal" text-anchor="middle" >4</text>
<text x="38.5" y="77" font-size="11" fill="#000" stroke="#000" stroke-width="0.25" font-weight="normal" text-anchor="middle" >4</text>
<text x="38.5" y="97.8" font-size="11" fill="#000" stroke="#000" stroke-width="0.25" font-weight="normal" text-anchor="middle" >4</text>
<rect x="208" y="81" width="21" height="6" fill="#000" />
<rect x="209" y="82" width="19" height="4" fill="#fff" />
<rect x="211" y="82" width="2" height="4" fill="#000" />
<rect x="215" y="82" width="2" height="4" fill="#000" />
<rect x="219" y="82" width="2" height="4" fill="#000" />
<rect x="224" y="82" width="2" height="4" fill="#000" />
<line x1="44" y1="25" x2="52" y2="33" stroke="#000" stroke-width="2.5" shape-rendering="auto"/>
<polygon points="38,35 41,38.5 48.0,38.5 48.0,39.0 51,39.0 51,41.0 48.0,41.0 48.0,41.5 41,41.5 38,45" fill="#000" />
<polygon points="30,55 34,58.5 39.4,58.5 39.4,59.0 43,59.0 43,61.0 39.4,61.0 39.4,61.5 34,61.5 30,65" fill="#000" />
<polygon points="30,77 34,80.5 39.4,80.5 39.4,81.0 43,81.0 43,83.0 39.4,83.0 39.4,83.5 34,83.5 30,87" fill="#000" />
<polygon points="30,99 34,102.5 39.4,102.5 39.4,103.0 43,103.0 43,105.0 39.4,105.0 39.4,105.5 34,105.5 30,109" fill="#000" />
<polygon points="67,15 73,15 70,22" fill="#000" />
<rect x="69" y="20" width="2" height="10" fill="#000" />
<polygon points="95,16 101,16 98,23" fill="#000" />
<rect x="97" y="21" width="2" height="9" fill="#000" />
<polygon points="81,49 87,49 84,42" fill="#000" />
<rect x="83" y="36" width="2" height="8" fill="#000" />
<line x1="142" y1="24" x2="135" y2="31" stroke="#000" stroke-width="2" shape-rendering="auto"/>
<polygon points="177,28 171,31.5 167.4,31.5 167.4,32.0 165,32.0 165,34.0 167.4,34.0 167.4,34.5 171,34.5 177,38" fill="#000" />
<polygon points="241,79 236,82.5 231.8,82.5 231.8,83.0 229,83.0 229,85.0 231.8,85.0 231.8,85.5 236,85.5 241,89" fill="#000" />
<rect x="198" y="413" width="6" height="16" fill="#000" />
<rect x="199" y="418" width="4" height="1" fill="#fff" />
<rect x="199" y="423" width="4" height="1" fill="#fff" />
<rect x="200" y="425" width="2" height="1" fill="#fff" />
<rect x="199" y="427" width="4" height="1" fill="#fff" />
<rect x="209" y="413" width="6" height="16" fill="#000" />
<rect x="210" y="418" width="4" height="1" fill="#fff" />
<rect x="210" y="423" width="4" height="1" fill="#fff" />
<rect x="211" y="425" width="2" height="1" fill="#fff" />
<rect x="210" y="427" width="4" height="1" fill="#fff" />
<polygon points="186,415 192,417.5 195.6,417.5 195.6,418.0 198,418.0 198,420.0 195.6,420.0 195.6,420.5 192,420.5 186,423" fill="#000" />
<line x1="210" y1="429" x2="205" y2="435" stroke="#000" stroke-width="2" shape-rendering="auto"/>
<rect x="26" y="12" width="20" height="14" rx="2.5" fill="#000"/>
<rect x="28" y="14" width="16" height="10" rx="1" fill="#fff"/>
<g transform="translate(36.0,0) scale(0.88,1)">
<text x="0" y="22.7" font-size="11.5" fill="#000" stroke="#000" stroke-width="0.1" font-weight="normal" text-anchor="middle" letter-spacing="0.4">C6</text>
</g>
<rect x="60" y="2" width="21" height="14" rx="2.5" fill="#000"/>
<rect x="62" y="4" width="17" height="10" rx="1" fill="#fff"/>
<g transform="translate(70.5,0) scale(0.88,1)">
<text x="0" y="12.7" font-size="11.5" fill="#000" stroke="#000" stroke-width="0.1" font-weight="normal" text-anchor="middle" letter-spacing="0.4">C5</text>
</g>
<rect x="87" y="3" width="21" height="15" rx="2.5" fill="#000"/>
<rect x="89" y="5" width="17" height="11" rx="1" fill="#fff"/>
<g transform="translate(97.5,0) scale(0.88,1)">
<text x="0" y="14.7" font-size="11.5" fill="#000" stroke="#000" stroke-width="0.1" font-weight="normal" text-anchor="middle" letter-spacing="0.4">C3</text>
</g>
<rect x="140" y="10" width="20" height="15" rx="2.5" fill="#000"/>
<rect x="142" y="12" width="16" height="11" rx="1" fill="#fff"/>
<g transform="translate(150.0,0) scale(0.88,1)">
<text x="0" y="21.7" font-size="11.5" fill="#000" stroke="#000" stroke-width="0.1" font-weight="normal" text-anchor="middle" letter-spacing="0.4">C2</text>
</g>
<rect x="175" y="26" width="22" height="14" rx="2.5" fill="#000"/>
<rect x="177" y="28" width="18" height="10" rx="1" fill="#fff"/>
<g transform="translate(186.0,0) scale(0.88,1)">
<text x="0" y="36.7" font-size="11.5" fill="#000" stroke="#000" stroke-width="0.1" font-weight="normal" text-anchor="middle" letter-spacing="0.4">C1</text>
</g>
<rect x="19" y="32" width="19" height="15" rx="2.5" fill="#000"/>
<rect x="21" y="34" width="15" height="11" rx="1" fill="#fff"/>
<g transform="translate(28.5,0) scale(0.88,1)">
<text x="0" y="43.7" font-size="11.5" fill="#000" stroke="#000" stroke-width="0.1" font-weight="normal" text-anchor="middle" letter-spacing="0.4">C7</text>
</g>
<rect x="74" y="48" width="19" height="15" rx="2.5" fill="#000"/>
<rect x="76" y="50" width="15" height="11" rx="1" fill="#fff"/>
<g transform="translate(83.5,0) scale(0.88,1)">
<text x="0" y="59.7" font-size="11.5" fill="#000" stroke="#000" stroke-width="0.1" font-weight="normal" text-anchor="middle" letter-spacing="0.4">C4</text>
</g>
<rect x="2" y="53" width="29" height="15" rx="2.5" fill="#000"/>
<rect x="4" y="55" width="25" height="11" rx="1" fill="#fff"/>
<g transform="translate(16.5,0) scale(0.88,1)">
<text x="0" y="64.7" font-size="11.5" fill="#000" stroke="#000" stroke-width="0.1" font-weight="normal" text-anchor="middle" letter-spacing="0.4">JP1</text>
</g>
<rect x="2" y="76" width="29" height="15" rx="2.5" fill="#000"/>
<rect x="4" y="78" width="25" height="11" rx="1" fill="#fff"/>
<g transform="translate(16.5,0) scale(0.88,1)">
<text x="0" y="87.7" font-size="11.5" fill="#000" stroke="#000" stroke-width="0.1" font-weight="normal" text-anchor="middle" letter-spacing="0.4">JP2</text>
</g>
<rect x="2" y="98" width="29" height="14" rx="2.5" fill="#000"/>
<rect x="4" y="100" width="25" height="10" rx="1" fill="#fff"/>
<g transform="translate(16.5,0) scale(0.88,1)">
<text x="0" y="108.7" font-size="11.5" fill="#000" stroke="#000" stroke-width="0.1" font-weight="normal" text-anchor="middle" letter-spacing="0.4">JP3</text>
</g>
<rect x="240" y="76" width="34" height="15" rx="2.5" fill="#000"/>
<rect x="242" y="78" width="30" height="11" rx="1" fill="#fff"/>
<g transform="translate(257.0,0) scale(0.88,1)">
<text x="0" y="87.7" font-size="11.5" fill="#000" stroke="#000" stroke-width="0.1" font-weight="normal" text-anchor="middle" letter-spacing="0.4">JP13</text>
</g>
<rect x="155" y="412" width="32" height="14" rx="2.5" fill="#000"/>
<rect x="157" y="414" width="28" height="10" rx="1" fill="#fff"/>
<g transform="translate(171.0,0) scale(0.88,1)">
<text x="0" y="422.7" font-size="11.5" fill="#000" stroke="#000" stroke-width="0.1" font-weight="normal" text-anchor="middle" letter-spacing="0.4">JP23</text>
</g>
<rect x="173" y="434" width="32" height="14" rx="2.5" fill="#000"/>
<rect x="175" y="436" width="28" height="10" rx="1" fill="#fff"/>
<g transform="translate(189.0,0) scale(0.88,1)">
<text x="0" y="444.7" font-size="11.5" fill="#000" stroke="#000" stroke-width="0.1" font-weight="normal" text-anchor="middle" letter-spacing="0.4">JP22</text>
</g>
<rect x="491" y="314" width="28" height="15" rx="2.5" fill="#000"/>
<rect x="493" y="316" width="24" height="11" rx="1" fill="#fff"/>
<g transform="translate(505.0,0) scale(0.88,1)">
<text x="0" y="325.7" font-size="11.5" fill="#000" stroke="#000" stroke-width="0.1" font-weight="normal" text-anchor="middle" letter-spacing="0.4">CN3</text>
</g>
<rect x="564" y="294" width="28" height="14" rx="2.5" fill="#000"/>
<rect x="566" y="296" width="24" height="10" rx="1" fill="#fff"/>
<g transform="translate(578.0,0) scale(0.88,1)">
<text x="0" y="304.7" font-size="11.5" fill="#000" stroke="#000" stroke-width="0.1" font-weight="normal" text-anchor="middle" letter-spacing="0.4">CN2</text>
</g>
<rect x="590" y="318" width="28" height="14" rx="2.5" fill="#000"/>
<rect x="592" y="320" width="24" height="10" rx="1" fill="#fff"/>
<g transform="translate(604.0,0) scale(0.88,1)">
<text x="0" y="328.7" font-size="11.5" fill="#000" stroke="#000" stroke-width="0.1" font-weight="normal" text-anchor="middle" letter-spacing="0.4">CN1</text>
</g>
<rect x="595" y="343" width="31" height="14" rx="2.5" fill="#000"/>
<rect x="597" y="345" width="27" height="10" rx="1" fill="#fff"/>
<g transform="translate(610.5,0) scale(0.88,1)">
<text x="0" y="353.7" font-size="11.5" fill="#000" stroke="#000" stroke-width="0.1" font-weight="normal" text-anchor="middle" letter-spacing="0.4">CN7</text>
</g>
<rect x="590" y="364" width="28" height="14" rx="2.5" fill="#000"/>
<rect x="592" y="366" width="24" height="10" rx="1" fill="#fff"/>
<g transform="translate(604.0,0) scale(0.88,1)">
<text x="0" y="374.7" font-size="11.5" fill="#000" stroke="#000" stroke-width="0.1" font-weight="normal" text-anchor="middle" letter-spacing="0.4">IR1</text>
</g>
<rect x="534" y="400" width="35" height="13" rx="2.5" fill="#000"/>
<rect x="536" y="402" width="31" height="9" rx="1" fill="#fff"/>
<g transform="translate(551.5,0) scale(0.88,1)">
<text x="0" y="409.7" font-size="11.5" fill="#000" stroke="#000" stroke-width="0.1" font-weight="normal" text-anchor="middle" letter-spacing="0.4">USB2</text>
</g>
<rect x="530" y="421" width="34" height="14" rx="2.5" fill="#000"/>
<rect x="532" y="423" width="30" height="10" rx="1" fill="#fff"/>
<g transform="translate(547.0,0) scale(0.88,1)">
<text x="0" y="431.7" font-size="11.5" fill="#000" stroke="#000" stroke-width="0.1" font-weight="normal" text-anchor="middle" letter-spacing="0.4">USB1</text>
</g>
<polygon points="175,167.5 180.5,171.5 175,174.5" fill="#fff" />
<polygon points="175,184.5 180.5,188.5 175,191.5" fill="#fff" />
<polygon points="592,322.5 587.5,325.5 592,327.5" fill="#fff" />
<polygon points="597,346.5 593.5,350.5 597,353.5" fill="#fff" />
<polygon points="539,402.5 534.5,406.5 539,409.5" fill="#fff" />
<polygon points="36,36.5 38.5,40.5 36,43.5" fill="#fff" />
<polygon points="28,56.5 31.5,60.5 28,63.5" fill="#fff" />
<polygon points="28,78.5 31.5,82.5 28,85.5" fill="#fff" />
<polygon points="28,100.5 31.5,104.5 28,107.5" fill="#fff" />
<polygon points="179,29.5 173.5,33.5 179,36.5" fill="#fff" />
<polygon points="243,80.5 238.5,84.5 243,87.5" fill="#fff" />
<polygon points="184,416.5 189.5,419.5 184,421.5" fill="#fff" />
</svg></body></html>
